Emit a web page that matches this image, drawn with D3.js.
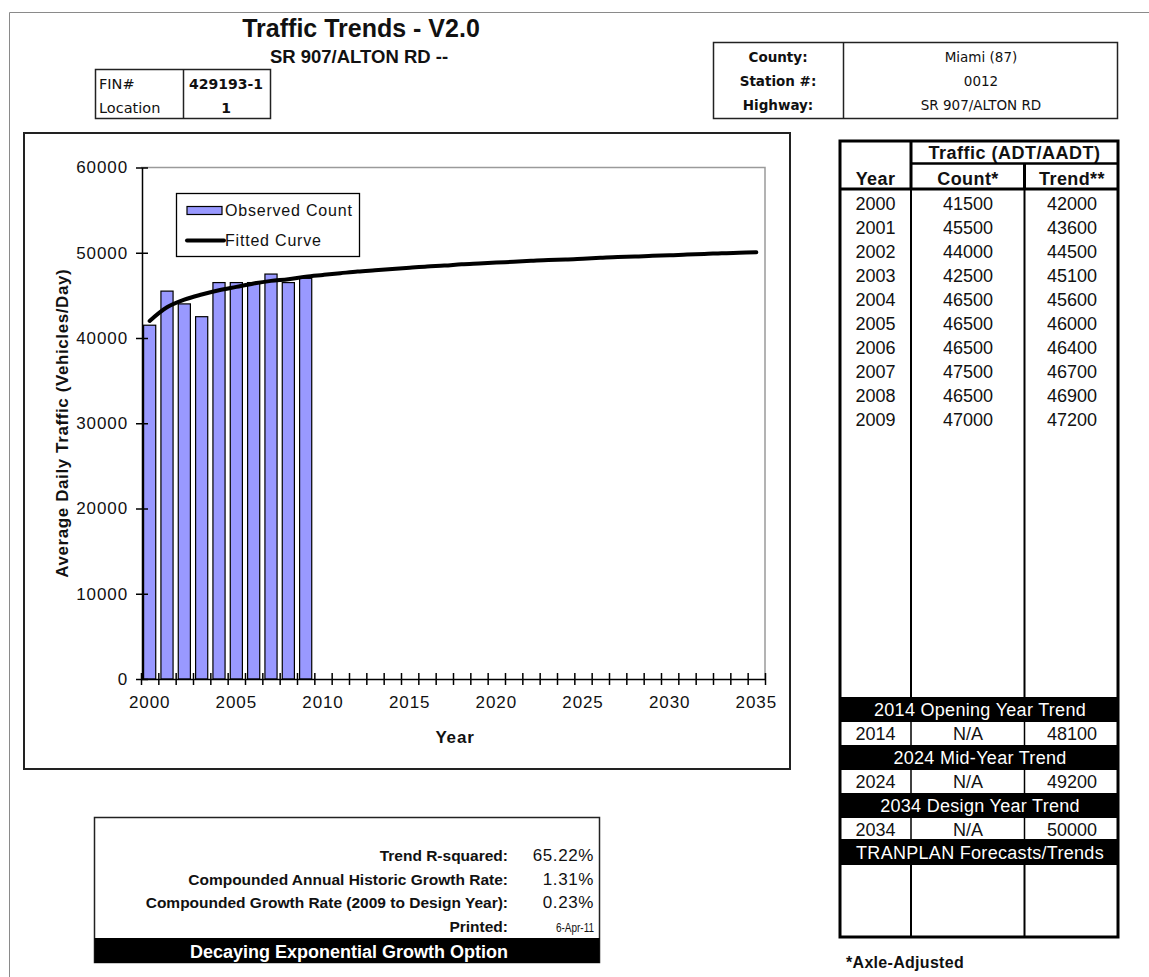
<!DOCTYPE html>
<html>
<head>
<meta charset="utf-8">
<title>Traffic Trends - V2.0</title>
<script src="https://cdn.jsdelivr.net/npm/d3@7/dist/d3.min.js"></script>
<style>
  html, body { margin: 0; padding: 0; background: #fff; }
  svg { display: block; }
  text { font-family: "Liberation Sans", Arial, sans-serif; fill: #111; }
  .dv { font-family: "DejaVu Sans", Verdana, sans-serif; }
</style>
</head>
<body>
<svg id="page" width="1149" height="977"></svg>
<script>
// ---- data ----
const categories = [2000, 2001, 2002, 2003, 2004, 2005, 2006, 2007, 2008, 2009,
  2010, 2011, 2012, 2013, 2014, 2015, 2016, 2017, 2018, 2019,
  2020, 2021, 2022, 2023, 2024, 2025, 2026, 2027, 2028, 2029,
  2030, 2031, 2032, 2033, 2034, 2035];

const countYears = [2000, 2001, 2002, 2003, 2004, 2005, 2006, 2007, 2008, 2009];
const countValues = [41500, 45500, 44000, 42500, 46500, 46500, 46500, 47500, 46500, 47000];

// fitted (decaying exponential) trend, one value per category year
const trendValues = [42000, 43600, 44500, 45100, 45600, 46000, 46400, 46700, 46900, 47200,
  47400, 47600, 47800, 47950, 48100, 48250, 48400, 48500, 48650, 48750,
  48850, 48950, 49050, 49150, 49200, 49300, 49400, 49500, 49550, 49650,
  49700, 49800, 49850, 49950, 50000, 50050];

const yTickValues = [0, 10000, 20000, 30000, 40000, 50000, 60000];
const xTickLabels = [2000, 2005, 2010, 2015, 2020, 2025, 2030, 2035];

const forecastTitles = ["2014 Opening Year Trend", "2024 Mid-Year Trend", "2034 Design Year Trend"];
const forecastYears = [2014, 2024, 2034];
const forecastCounts = ["N/A", "N/A", "N/A"];

const statLabels = ["Trend R-squared:", "Compounded Annual Historic Growth Rate:",
  "Compounded Growth Rate (2009 to Design Year):", "Printed:"];
const statValues = ["65.22%", "1.31%", "0.23%", "6-Apr-11"];

const infoLabels = ["County:", "Station #:", "Highway:"];
const infoValues = ["Miami (87)", "0012", "SR 907/ALTON RD"];

const trendOf = yr => trendValues[categories.indexOf(yr)];

// ---- page ----
const svg = d3.select("#page");
svg.append("rect").attr("width", 1149).attr("height", 977).attr("fill", "#fff");

// sheet edge
svg.append("path").attr("d", "M9.5,977V12.5H1149").attr("fill", "none")
  .attr("stroke", "#8a8a8a").attr("stroke-width", 1);

// titles
svg.append("text").attr("x", 361).attr("y", 37).attr("text-anchor", "middle")
  .attr("font-weight", "bold").attr("font-size", 25).text("Traffic Trends - V2.0");
svg.append("text").attr("x", 359).attr("y", 63).attr("text-anchor", "middle")
  .attr("font-weight", "bold").attr("font-size", 18.5).text("SR 907/ALTON RD --");

// FIN / location box
const fin = svg.append("g");
fin.append("rect").attr("x", 95.5).attr("y", 69.5).attr("width", 175).attr("height", 49)
  .attr("fill", "none").attr("stroke", "#222").attr("stroke-width", 1.5);
fin.append("line").attr("x1", 183.5).attr("x2", 183.5).attr("y1", 69.5).attr("y2", 118.5)
  .attr("stroke", "#222").attr("stroke-width", 1.5);
[["FIN#", "429193-1", 89], ["Location", "1", 113]].forEach(([l, v, y]) => {
  fin.append("text").attr("class", "dv").attr("x", 99).attr("y", y).attr("font-size", 14.5).text(l);
  fin.append("text").attr("class", "dv").attr("x", 226).attr("y", y).attr("text-anchor", "middle")
    .attr("font-size", 14).attr("font-weight", "bold").text(v);
});

// county / station / highway box
const info = svg.append("g");
info.append("rect").attr("x", 713.5).attr("y", 42.5).attr("width", 404).attr("height", 76)
  .attr("fill", "none").attr("stroke", "#222").attr("stroke-width", 1.5);
info.append("line").attr("x1", 843.5).attr("x2", 843.5).attr("y1", 42.5).attr("y2", 118.5)
  .attr("stroke", "#222").attr("stroke-width", 1.5);
infoLabels.forEach((l, i) => {
  const y = 62 + i * 24;
  info.append("text").attr("class", "dv").attr("x", 778).attr("y", y).attr("text-anchor", "middle")
    .attr("font-weight", "bold").attr("font-size", 13.5).text(l);
  info.append("text").attr("class", "dv").attr("x", 981).attr("y", y).attr("text-anchor", "middle")
    .attr("font-size", 13.5).text(infoValues[i]);
});

// ---- chart ----
svg.append("rect").attr("x", 24).attr("y", 133).attr("width", 766).attr("height", 636)
  .attr("fill", "#fff").attr("stroke", "#222").attr("stroke-width", 2);

const plot = { left: 141, right: 765, top: 167.5, bottom: 679 };

const x = d3.scaleBand().domain(categories).range([plot.left, plot.right])
  .paddingInner(0.3).paddingOuter(0.15);
const xEdge = d3.scaleLinear().domain([categories[0], categories[categories.length - 1] + 1])
  .range([plot.left, plot.right]);
const y = d3.scaleLinear().domain([0, 60000]).range([plot.bottom, plot.top]);

const chart = svg.append("g");

// plot area border (top and right)
chart.append("path")
  .attr("d", `M${plot.left},${plot.top}H${plot.right}V${plot.bottom}`)
  .attr("fill", "none").attr("stroke", "#9a9a9a").attr("stroke-width", 1.5);

// bars
chart.selectAll("rect.bar").data(countYears).join("rect").attr("class", "bar")
  .attr("x", d => x(d)).attr("width", x.bandwidth())
  .attr("y", (d, i) => y(countValues[i]))
  .attr("height", (d, i) => y(0) - y(countValues[i]))
  .attr("fill", "#9999ff").attr("stroke", "#000").attr("stroke-width", 1.2);

// x axis: tick marks at category edges crossing the axis line
const xAxis = chart.append("g").attr("transform", `translate(0,${plot.bottom})`)
  .call(d3.axisBottom(xEdge)
    .tickValues(d3.range(categories[0], categories[categories.length - 1] + 2))
    .tickFormat("").tickSize(6).tickSizeOuter(0));
xAxis.select(".domain").attr("stroke", "#000").attr("stroke-width", 1.5);
xAxis.selectAll(".tick line").attr("y1", -6).attr("stroke", "#000").attr("stroke-width", 1.5);

chart.selectAll("text.xlab").data(xTickLabels).join("text").attr("class", "xlab")
  .attr("x", d => x(d) + x.bandwidth() / 2).attr("y", plot.bottom + 29)
  .attr("text-anchor", "middle").attr("font-size", 17).attr("letter-spacing", 0.9)
  .text(d => d);

// y axis
const yAxis = chart.append("g").attr("transform", `translate(${plot.left + 1},0)`)
  .call(d3.axisLeft(y).tickValues(yTickValues).tickFormat(d3.format("d"))
    .tickSize(6).tickSizeOuter(0).tickPadding(8));
yAxis.select(".domain").attr("stroke", "#000").attr("stroke-width", 1.5);
yAxis.selectAll(".tick line").attr("x1", 6).attr("stroke", "#000").attr("stroke-width", 1.5);
yAxis.selectAll(".tick text").attr("font-size", 17).attr("letter-spacing", 0.9)
  .attr("font-family", "'Liberation Sans', Arial, sans-serif").attr("fill", "#111");

// axis titles
chart.append("text").attr("transform", `translate(68,${(plot.top + plot.bottom) / 2}) rotate(-90)`)
  .attr("text-anchor", "middle").attr("font-weight", "bold").attr("font-size", 17)
  .attr("letter-spacing", 0.6).text("Average Daily Traffic (Vehicles/Day)");
chart.append("text").attr("x", (plot.left + plot.right) / 2 + 2).attr("y", 743)
  .attr("text-anchor", "middle").attr("font-weight", "bold").attr("font-size", 17)
  .attr("letter-spacing", 0.8).text("Year");

// fitted curve
const line = d3.line()
  .x((d, i) => x(categories[i]) + x.bandwidth() / 2)
  .y(d => y(d))
  .curve(d3.curveCatmullRom.alpha(0.5));
chart.append("path").datum(trendValues).attr("d", line)
  .attr("fill", "none").attr("stroke", "#000").attr("stroke-width", 4)
  .attr("stroke-linecap", "round");

// legend
const lg = chart.append("g");
lg.append("rect").attr("x", 176.5).attr("y", 193.5).attr("width", 183).attr("height", 63)
  .attr("fill", "#fff").attr("stroke", "#000").attr("stroke-width", 1.3);
lg.append("rect").attr("x", 187).attr("y", 206.5).attr("width", 35).attr("height", 8)
  .attr("fill", "#9999ff").attr("stroke", "#000").attr("stroke-width", 1.2);
lg.append("text").attr("x", 225).attr("y", 216).attr("font-size", 16).attr("letter-spacing", 0.8)
  .text("Observed Count");
lg.append("line").attr("x1", 187).attr("x2", 224).attr("y1", 240.5).attr("y2", 240.5)
  .attr("stroke", "#000").attr("stroke-width", 4).attr("stroke-linecap", "round");
lg.append("text").attr("x", 225).attr("y", 246).attr("font-size", 16).attr("letter-spacing", 0.8)
  .text("Fitted Curve");

// ---- right-hand table ----
const T = { left: 840, right: 1118, top: 141, bottom: 937, c1: 911, c2: 1024.5 };
const tb = svg.append("g");
const colX = [875.5, 968, 1072];
const hline = (yy, x1, x2, w) => tb.append("line").attr("x1", x1).attr("x2", x2)
  .attr("y1", yy).attr("y2", yy).attr("stroke", "#000").attr("stroke-width", w);
const vline = (xx, y1, y2, w) => tb.append("line").attr("x1", xx).attr("x2", xx)
  .attr("y1", y1).attr("y2", y2).attr("stroke", "#000").attr("stroke-width", w);

// header
tb.append("text").attr("x", (T.c1 + T.right) / 2).attr("y", 159).attr("text-anchor", "middle")
  .attr("font-weight", "bold").attr("font-size", 18).attr("letter-spacing", 0.5).text("Traffic (ADT/AADT)");
["Year", "Count*", "Trend**"].forEach((h, i) => {
  tb.append("text").attr("x", colX[i]).attr("y", 185).attr("text-anchor", "middle")
    .attr("font-weight", "bold").attr("font-size", 18).attr("letter-spacing", 0.4).text(h);
});
hline(163.5, T.c1, T.right, 2.5);
hline(189, T.left, T.right, 3);
vline(T.c1, T.top, 189, 3);
vline(T.c2, 163.5, 189, 3);

// yearly rows
const rows = tb.selectAll("g.row").data(countYears).join("g").attr("class", "row")
  .attr("transform", (d, i) => `translate(0,${210 + i * 24})`);
rows.append("text").attr("x", colX[0]).attr("text-anchor", "middle").attr("font-size", 18).text(d => d);
rows.append("text").attr("x", colX[1]).attr("text-anchor", "middle").attr("font-size", 18)
  .text((d, i) => countValues[i]);
rows.append("text").attr("x", colX[2]).attr("text-anchor", "middle").attr("font-size", 18)
  .text(d => trendOf(d));
vline(T.c1, 189, 697, 2);
vline(T.c2, 189, 697, 2);

// forecast blocks
const blockTop = [697, 745, 793];
forecastTitles.forEach((t, i) => {
  const y0 = blockTop[i];
  tb.append("rect").attr("x", T.left).attr("y", y0).attr("width", T.right - T.left).attr("height", 25)
    .attr("fill", "#000");
  tb.append("text").attr("x", (T.left + T.right) / 2 + 1).attr("y", y0 + 19).attr("text-anchor", "middle")
    .attr("font-size", 18).attr("letter-spacing", 0.3).style("fill", "#fff").text(t);
  const ry = y0 + 25;
  const h = i === 2 ? 22 : 23;
  vline(T.c1, ry, ry + h, 1.5);
  vline(T.c2, ry, ry + h, 1.5);
  const vals = [forecastYears[i], forecastCounts[i], trendOf(forecastYears[i])];
  vals.forEach((v, j) => tb.append("text").attr("x", colX[j]).attr("y", ry + 18)
    .attr("text-anchor", "middle").attr("font-size", 18).text(v));
});
tb.append("rect").attr("x", T.left).attr("y", 839).attr("width", T.right - T.left).attr("height", 26)
  .attr("fill", "#000");
tb.append("text").attr("x", (T.left + T.right) / 2 + 1).attr("y", 859).attr("text-anchor", "middle")
  .attr("font-size", 18).attr("letter-spacing", 0.3).style("fill", "#fff").text("TRANPLAN Forecasts/Trends");
vline(T.c1, 865, T.bottom, 2);
vline(T.c2, 865, T.bottom, 2);

// outer frame
tb.append("rect").attr("x", T.left).attr("y", T.top).attr("width", T.right - T.left)
  .attr("height", T.bottom - T.top).attr("fill", "none").attr("stroke", "#000").attr("stroke-width", 3);

svg.append("text").attr("x", 846).attr("y", 968).attr("font-weight", "bold").attr("font-size", 16)
  .attr("letter-spacing", 0.3).text("*Axle-Adjusted");

// ---- statistics box ----
const st = svg.append("g");
st.append("rect").attr("x", 94.5).attr("y", 817.5).attr("width", 505).attr("height", 145)
  .attr("fill", "#fff").attr("stroke", "#222").attr("stroke-width", 1.5);
st.append("rect").attr("x", 94.5).attr("y", 938).attr("width", 505).attr("height", 25).attr("fill", "#000");
statLabels.forEach((l, i) => {
  const yy = 861 + i * 23.5;
  st.append("text").attr("x", 508).attr("y", yy).attr("text-anchor", "end")
    .attr("font-weight", "bold").attr("font-size", 15.5).text(l);
  const v = st.append("text").attr("x", 594).attr("y", yy).attr("text-anchor", "end");
  if (i === 3) v.attr("font-size", 12).attr("textLength", 38).attr("lengthAdjust", "spacingAndGlyphs").text(statValues[i]);
  else v.attr("font-size", 17).attr("letter-spacing", 0.6).text(statValues[i]);
});
st.append("text").attr("x", 349).attr("y", 958).attr("text-anchor", "middle")
  .attr("font-weight", "bold").attr("font-size", 18).style("fill", "#fff")
  .text("Decaying Exponential Growth Option");
</script>
</body>
</html>
